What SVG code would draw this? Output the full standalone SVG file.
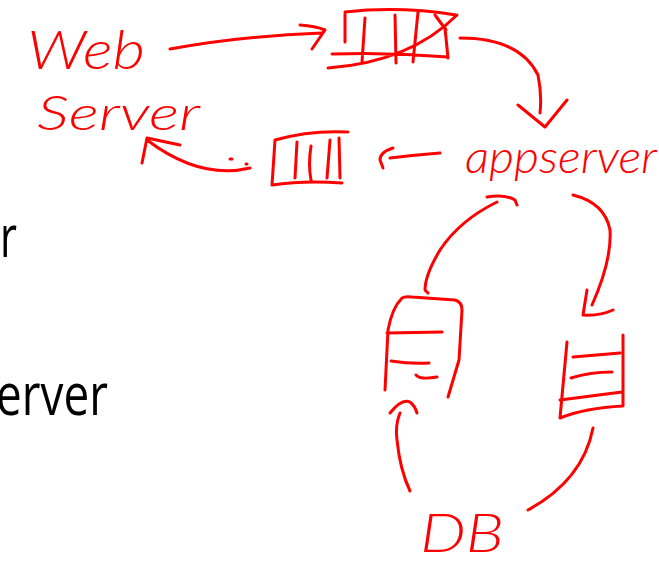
<svg xmlns="http://www.w3.org/2000/svg" width="659" height="565" viewBox="0 0 659 565">
<style>
.ink{fill:none;stroke:#ff0000;stroke-width:3;stroke-linecap:round;stroke-linejoin:round}
.hand{fill:#ff0000;font-family:Lato,"Open Sans",sans-serif;font-weight:300;font-style:italic}
.slide{fill:#000;font-family:"Open Sans","Liberation Sans",sans-serif}
</style>
<rect width="659" height="565" fill="#fff"/>
<g id="slide-text">
<text class="slide" x="0" y="257" font-size="58" textLength="17" lengthAdjust="spacingAndGlyphs">r</text>
<text class="slide" x="-4" y="415" font-size="58" textLength="112" lengthAdjust="spacingAndGlyphs">erver</text>
</g>
<g id="web-server">
<text class="hand" x="27" y="69" font-size="54" textLength="118" lengthAdjust="spacingAndGlyphs">Web</text>
<text class="hand" x="37" y="130" font-size="48" textLength="163" lengthAdjust="spacingAndGlyphs">Server</text>
</g>
<g id="queue-top">
<path class="ink" d="M345,12 Q400,6 456,15 M345,14 L345,42 M332,54 Q390,52 448,57 M445,28 L448,58 M328,68 Q410,62 457,15 M435,15 L446,30 M365,18 L362,62 M395,15 L396,63 M418,12 L413,62"/>
</g>
<g id="appserver">
<text class="hand" x="465" y="173" font-size="46" textLength="192" lengthAdjust="spacingAndGlyphs">appserver</text>
<path class="ink" d="M487,197 Q505,194 515,200 L517,205"/>
</g>
<g id="queue-mid">
<path class="ink" d="M275,140 Q310,130 348,132 M275,140 L272,185 Q305,180 342,183 M297,142 L295,178 M311,146 Q308,165 311,180 M330,140 L327,178 M339,138 L340,178"/>
</g>
<g id="db-left">
<path class="ink" d="M385,390 L388,330 Q392,308 402,298 Q405,296 412,297 L455,300 Q462,302 462,310 L459,360 L448,397 M387,333 L442,332 M391,361 Q410,364 429,363 M416,375 Q420,380 437,377"/>
</g>
<g id="db-right">
<path class="ink" d="M567,342 L560,418 Q585,408 623,406 L623,335 M573,357 L620,353 M571,378 Q590,372 612,372 M560,400 L622,392"/>
</g>
<g id="db">
<text class="hand" x="420" y="552" font-size="54" textLength="84" lengthAdjust="spacingAndGlyphs">DB</text>
</g>
<g id="connectors">
<path class="ink" d="M170,49 Q240,36 322,33 M300,25 Q315,26 325,30 L312,49"/>
<path class="ink" d="M460,38 Q520,38 538,75 Q542,95 540,113 M518,105 L545,127 L567,100"/>
<path class="ink" d="M440,153 Q415,155 390,158 M393,148 Q380,152 380,160 L383,168"/>
<path class="ink" d="M250,168 Q200,180 147,140 M142,163 Q145,148 147,138 L180,145"/>
<path class="ink" d="M230,159 L232,159 M246,164 L247,164"/>
<path class="ink" d="M497,202 Q460,220 440,250 Q425,275 425,290 L428,293"/>
<path class="ink" d="M410,491 Q400,470 397,440 Q395,425 400,413 M390,413 Q402,398 410,402 Q415,406 417,413"/>
<path class="ink" d="M573,195 Q605,203 610,230 Q612,260 592,305 M587,290 L583,315 Q600,316 613,310"/>
<path class="ink" d="M593,428 Q583,480 528,510"/>
</g>
</svg>
